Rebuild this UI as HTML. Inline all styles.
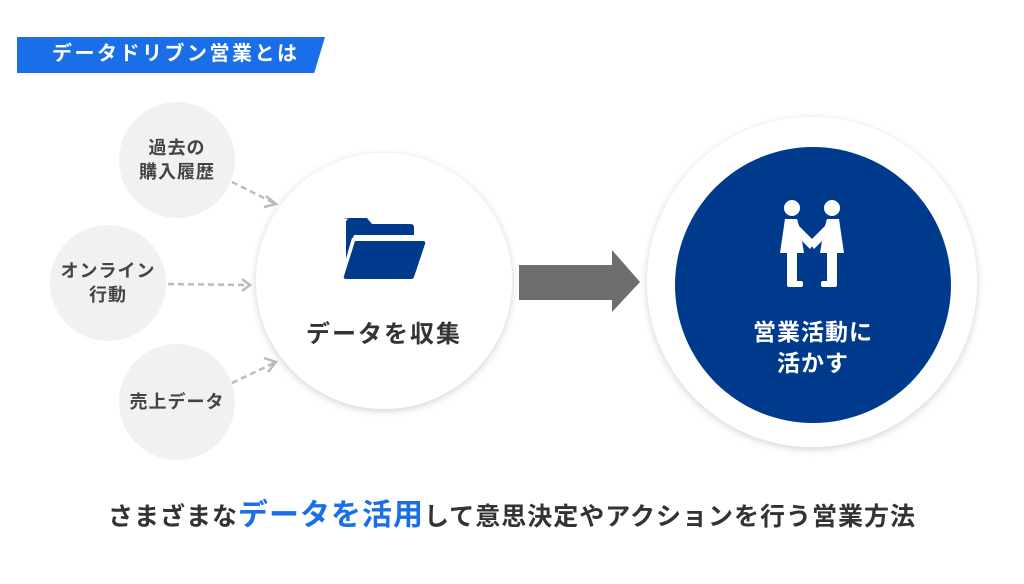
<!DOCTYPE html>
<html><head><meta charset="utf-8"><style>
body{margin:0;width:1024px;height:584px;background:#fff;position:relative;overflow:hidden;font-family:"Liberation Sans","Noto Sans CJK JP",sans-serif;font-weight:bold;}
.abs{position:absolute}
.sc{position:absolute;width:116px;height:116px;border-radius:50%;background:#f1f1f1;display:flex;align-items:center;justify-content:center;text-align:center;color:#444;font-size:18px;line-height:24px;letter-spacing:1px}
</style></head><body>
<div class="abs" style="left:17px;top:37px;width:308px;height:36px;background:#1a6fe8;clip-path:polygon(0 0,100% 0,96.5% 100%,0 100%)"></div>
<div class="abs" style="left:52px;top:41px;color:#fff;font-size:20px;line-height:26px;letter-spacing:2.5px">データドリブン営業とは</div>

<div class="sc" style="left:119px;top:102px">過去の<br>購入履歴</div>
<div class="sc" style="left:50px;top:225px">オンライン<br>行動</div>
<div class="sc" style="left:119px;top:344px">売上データ</div>

<svg class="abs" style="left:0;top:0" width="1024" height="584">
<g stroke="#bbb" stroke-width="2.5" stroke-dasharray="6,4" fill="none">
<line x1="232" y1="182" x2="274" y2="203"/>
<line x1="168" y1="284" x2="248" y2="285"/>
<line x1="232" y1="383" x2="274" y2="363"/>
</g>
<g stroke="#bbb" stroke-width="2.5" fill="none">
<polyline points="266,196 276,204 264,207"/>
<polyline points="242,279 250,285 242,291"/>
<polyline points="264,358 276,362 268,372"/>
</g>
<defs><filter id="sh" x="-20%" y="-20%" width="140%" height="140%"><feDropShadow dx="0" dy="2" stdDeviation="4" flood-color="#000" flood-opacity="0.18"/></filter></defs>
<circle cx="384" cy="281" r="128" fill="#fff" filter="url(#sh)"/>
<circle cx="812" cy="282" r="165" fill="#fff" filter="url(#sh)"/>
<circle cx="813" cy="285" r="138" fill="#003a8c"/>
<!-- folder -->
<path d="M343,218 h24 l5,6 h39 a3,3 0 0 1 3,3 v8 h-60 l-8,25 v-38 a3,3 0 0 1 3,-3 z" fill="#003a8c"/>
<path d="M355,241 h68 a2,2 0 0 1 2,3 l-11,33 a3,3 0 0 1 -3,2 h-65 a2,2 0 0 1 -2,-3 z" fill="#003a8c"/>
<path d="M353,238 l-11,38" stroke="#fff" stroke-width="2"/>
<!-- arrow -->
<polygon points="519,265 612,265 612,250 640,282 612,312 612,300 519,300" fill="#6d6d6d"/>
<!-- people -->
<g fill="#fff">
<circle cx="792" cy="208" r="8"/>
<circle cx="832" cy="208" r="8"/>
<path d="M785,219 h12 l3,10 l4,24 h-24 z"/>
<rect x="787" y="250" width="10" height="36" rx="2"/>
<rect x="787" y="281" width="16" height="6" rx="2"/>
<polygon points="795,222 815,242 810,249 791,230"/>
<path d="M839,219 h-12 l-3,10 l-4,24 h24 z"/>
<rect x="827" y="250" width="10" height="36" rx="2"/>
<rect x="821" y="281" width="16" height="6" rx="2"/>
<polygon points="829,222 809,242 814,249 833,230"/>
</g>
</svg>
<div class="abs" style="left:284px;top:314px;width:200px;text-align:center;color:#333;font-size:24px;letter-spacing:2px">データを収集</div>
<div class="abs" style="left:713px;top:317px;width:200px;text-align:center;color:#fff;font-size:23px;line-height:31px;letter-spacing:1px">営業活動に<br>活かす</div>
<div class="abs" style="left:0;top:490px;width:1024px;text-align:center;color:#333;font-size:25px;letter-spacing:1px;white-space:nowrap">さまざまな<span style="color:#1a6fe8;font-size:30px">データを活用</span>して意思決定やアクションを行う営業方法</div>
</body></html>
